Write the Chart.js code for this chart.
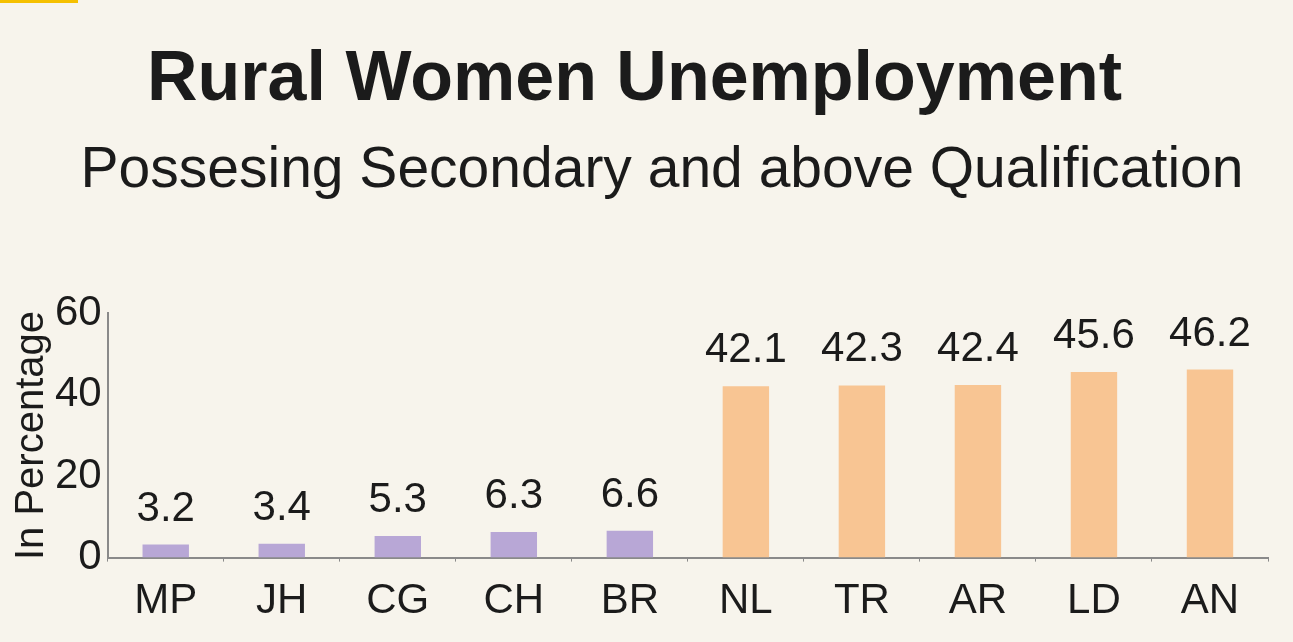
<!DOCTYPE html>
<html>
<head>
<meta charset="utf-8">
<script src="https://cdn.jsdelivr.net/npm/chart.js@4/dist/chart.umd.min.js"></script>
<style>
  html, body { margin: 0; padding: 0; background: #f7f4ec; }
  #wrap { width: 1293px; height: 642px; position: relative; }
</style>
</head>
<body>
<div id="wrap"><canvas id="chart" width="1293" height="642"></canvas></div>
<script>
const states = ["MP", "JH", "CG", "CH", "BR", "NL", "TR", "AR", "LD", "AN"];
const unemployment = [3.2, 3.4, 5.3, 6.3, 6.6, 42.1, 42.3, 42.4, 45.6, 46.2];
const barColors = ["#b8a7d6", "#b8a7d6", "#b8a7d6", "#b8a7d6", "#b8a7d6",
  "#f8c593", "#f8c593", "#f8c593", "#f8c593", "#f8c593"];
const yTicks = [0, 20, 40, 60];

const titleText = "Rural Women Unemployment";
const subtitleText = "Possesing Secondary and above Qualification";

const textColor = "#1b1b1b";
const fontFamily = "'Liberation Sans', Arial, sans-serif";
const subtitleSize = 57;

// fond + petit trait jaune en haut à gauche
const background = {
  id: "background",
  beforeDraw(chart) {
    const ctx = chart.ctx;
    ctx.save();
    ctx.fillStyle = "#f7f4ec";
    ctx.fillRect(0, 0, chart.width, chart.height);
    ctx.fillStyle = "#f5c000";
    ctx.fillRect(0, 0, 78, 3);
    ctx.restore();
  },
};

// sous-titre décalé un peu vers la droite (comme l'original)
const shiftedSubtitle = {
  id: "shiftedSubtitle",
  afterDraw(chart) {
    const ctx = chart.ctx;
    const top = chart.titleBlock.bottom;
    ctx.save();
    ctx.font = subtitleSize + "px " + fontFamily;
    ctx.fillStyle = textColor;
    ctx.textAlign = "center";
    ctx.textBaseline = "middle";
    ctx.fillText(subtitleText, 662, top + (subtitleSize * 1.2) / 2);
    ctx.restore();
  },
};

// valeurs au-dessus des barres
const valueLabels = {
  id: "valueLabels",
  afterDatasetsDraw(chart) {
    const ctx = chart.ctx;
    const meta = chart.getDatasetMeta(0);
    ctx.save();
    ctx.font = "42px " + fontFamily;
    ctx.fillStyle = textColor;
    ctx.textAlign = "center";
    ctx.textBaseline = "alphabetic";
    meta.data.forEach((bar, i) => {
      ctx.fillText(unemployment[i].toFixed(1), bar.x, bar.y - 24);
    });
    ctx.restore();
  },
};

new Chart(document.getElementById("chart"), {
  type: "bar",
  data: {
    labels: states,
    datasets: [
      {
        data: unemployment,
        backgroundColor: barColors,
        borderWidth: 0,
        barPercentage: 0.8,
        categoryPercentage: 0.5,
      },
    ],
  },
  options: {
    responsive: false,
    animation: false,
    layout: { padding: { top: 39, right: 25, bottom: 0, left: 1 } },
    plugins: {
      legend: { display: false },
      tooltip: { enabled: false },
      title: {
        display: true,
        text: titleText,
        color: textColor,
        font: { family: fontFamily, size: 70, weight: "bold" },
        padding: { top: 0, bottom: 14 },
      },
      subtitle: {
        // réserve la place, le texte est dessiné par shiftedSubtitle
        display: true,
        text: subtitleText,
        color: "rgba(0,0,0,0)",
        font: { family: fontFamily, size: subtitleSize },
        padding: { top: 0, bottom: 108 },
      },
    },
    scales: {
      x: {
        grid: {
          display: true,
          drawOnChartArea: false,
          drawTicks: true,
          tickLength: 4,
          offset: true,
          color: "#8a8a8a",
        },
        border: { display: true, color: "#8a8a8a", width: 2 },
        ticks: {
          color: textColor,
          font: { family: fontFamily, size: 42 },
          padding: 15,
          maxRotation: 0,
        },
      },
      y: {
        min: 0,
        max: 60,
        afterBuildTicks(scale) {
          scale.ticks = yTicks.map((v) => ({ value: v }));
        },
        grid: { display: false, drawTicks: false },
        border: { display: true, color: "#8a8a8a", width: 2 },
        ticks: {
          color: textColor,
          font: { family: fontFamily, size: 42 },
          padding: 6,
        },
        title: {
          display: true,
          text: "In Percentage",
          color: textColor,
          font: { family: fontFamily, size: 40 },
          padding: { top: 7, bottom: -7 },
        },
      },
    },
  },
  plugins: [background, shiftedSubtitle, valueLabels],
});
</script>
</body>
</html>
